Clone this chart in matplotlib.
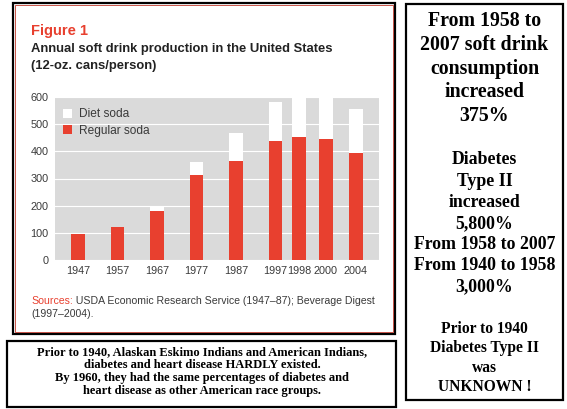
import matplotlib
matplotlib.use('Agg')
import matplotlib.pyplot as plt
from matplotlib import font_manager
from matplotlib.patches import Patch, Rectangle

# 数据
years = ['1947', '1957', '1967', '1977', '1987', '1997', '1998', '2000', '2004']
regular_soda = [94, 120, 181, 312, 364, 437, 451, 447, 394]
diet_soda = [0, 0, 19, 47, 105, 145, 147, 149, 163]
y_ticks = [0, 100, 200, 300, 400, 500, 600]

side_block1 = ['From 1958 to', '2007 soft drink', 'consumption', 'increased', '375%']
side_block2 = ['Diabetes', 'Type II', 'increased', '5,800%',
               'From 1958 to 2007', 'From 1940 to 1958', '3,000%']
side_block3 = ['Prior to 1940', 'Diabetes Type II', 'was', 'UNKNOWN !']
bottom_lines = ['Prior to 1940, Alaskan Eskimo Indians and American Indians,',
                'diabetes and heart disease HARDLY existed.',
                'By 1960, they had the same percentages of diabetes and',
                'heart disease as other American race groups.']

# 版面 (柱子的位置，年份间隔不等)
slots = [0, 1, 2, 3, 4, 5, 5.6, 6.27, 7.03]

RED = '#e8402f'
GRAY_BG = '#dadada'
TXT = '#3a3a3a'

names = {f.name for f in font_manager.fontManager.ttflist}
if 'Liberation Sans Narrow' in names:
    COND, SCALE = 'Liberation Sans Narrow', 1.1
else:
    COND, SCALE = 'Liberation Sans', 0.94
SERIF = 'Liberation Serif'

W, H = 567, 409
fig = plt.figure(figsize=(W / 100, H / 100), dpi=100)


def fx(x):
    return x / W


def fy(y):
    return 1 - y / H


def box(x0, y0, x1, y1, color='black', lw=1.5):
    fig.add_artist(Rectangle((fx(x0), fy(y1)), fx(x1 - x0), (y1 - y0) / H,
                             transform=fig.transFigure, fill=False,
                             edgecolor=color, linewidth=lw))


# 边框
box(13, 3, 395, 334, lw=1.6)
box(15, 5, 393, 332, color='#c0392b', lw=0.6)
box(7, 341, 396, 407, lw=1.6)
box(406, 4, 563, 400, lw=1.6)

# 标题
fig.text(fx(31), fy(35), 'Figure 1', color=RED, family=COND, weight='bold',
         fontsize=10.5, va='baseline')
fig.text(fx(31), fy(52), 'Annual soft drink production in the United States',
         color='#222222', family=COND, weight='bold', fontsize=10 * SCALE, va='baseline')
fig.text(fx(31), fy(69), '(12-oz. cans/person)',
         color='#222222', family=COND, weight='bold', fontsize=10 * SCALE, va='baseline')

# 柱状图
ax = fig.add_axes([fx(55), fy(260), fx(324), 163 / H])
ax.set_facecolor(GRAY_BG)
ax.bar(slots, regular_soda, width=0.35, color=RED, zorder=2)
ax.bar(slots, diet_soda, width=0.35, bottom=regular_soda, color='white', zorder=2)
ax.set_xlim(-0.58, 7.62)
ax.set_ylim(0, 600)
ax.set_yticks(y_ticks)
ax.set_xticks(slots)
ax.set_xticklabels(years)
ax.yaxis.grid(True, color='white', linewidth=0.8)
ax.set_axisbelow(True)
for s in ax.spines.values():
    s.set_visible(False)
ax.tick_params(length=0, labelsize=7.8, labelcolor=TXT)
ax.tick_params(axis='x', pad=4)
ax.tick_params(axis='y', pad=4.5)
for lab in ax.get_xticklabels() + ax.get_yticklabels():
    lab.set_family(COND)

ax.legend(handles=[Patch(facecolor='white', label='Diet soda'),
                   Patch(facecolor=RED, label='Regular soda')],
          loc='upper left', bbox_to_anchor=(0.025, 0.93), frameon=False,
          prop={'family': COND, 'size': 8.6}, labelcolor=TXT,
          handlelength=0.75, handleheight=0.75, handletextpad=0.6,
          labelspacing=0.35, borderpad=0, borderaxespad=0)

# 资料来源
t1 = fig.text(fx(31), fy(304), 'Sources:', color=RED, family='Liberation Sans',
              fontsize=7.6, va='baseline')
ax.annotate(' USDA Economic Research Service (1947\u201387); Beverage Digest',
            xy=(1, 0), xycoords=t1, va='bottom', color=TXT,
            family='Liberation Sans', fontsize=7.6, annotation_clip=False)
fig.text(fx(31), fy(317), '(1997\u20132004).', color=TXT, family='Liberation Sans',
         fontsize=7.6, va='baseline')

# 右边的说明
cx = 484.5
for i, line in enumerate(side_block1):
    fig.text(fx(cx), fy(21 + i * 23.8), line, family=SERIF, weight='bold',
             fontsize=14.3, ha='center', va='center')
for i, line in enumerate(side_block2):
    fig.text(fx(cx), fy(160 + i * 21.2), line, family=SERIF, weight='bold',
             fontsize=12.8, ha='center', va='center')
for i, line in enumerate(side_block3):
    fig.text(fx(cx), fy(329 + i * 19.3), line, family=SERIF, weight='bold',
             fontsize=11.2, ha='center', va='center')

# 下面的说明
for i, line in enumerate(bottom_lines):
    fig.text(fx(202), fy(352.5 + i * 12.7), line, family=SERIF, weight='bold',
             fontsize=9.0, ha='center', va='center')

fig.savefig('out.png', dpi=100)
